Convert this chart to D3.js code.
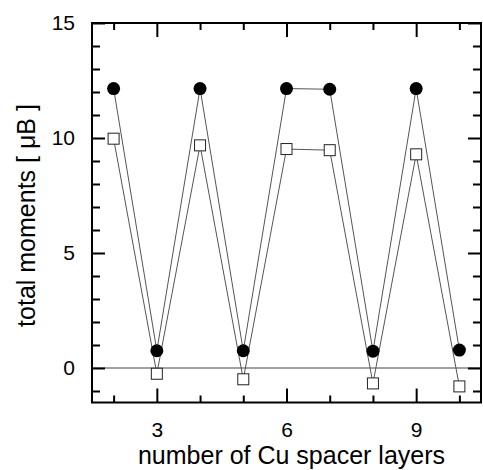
<!DOCTYPE html>
<html><head><meta charset="utf-8">
<script src="https://cdn.jsdelivr.net/npm/d3@7"></script>
<style>body{margin:0;background:#fff}svg{display:block}text{font-family:"Liberation Sans",Arial,sans-serif}</style>
</head><body><svg id="c" width="483" height="470"></svg>
<script>
const layers = [2,3,4,5,6,7,8,9,10];
const filledMoments = [12.15,0.75,12.15,0.75,12.15,12.12,0.73,12.15,0.78];
const openMoments = [9.97,-0.25,9.68,-0.49,9.52,9.47,-0.67,9.29,-0.8];
const xMajorTicks = [3,6,9];
const xMinorTicks = [2,4,5,7,8,10];
const yMajorTicks = [0,5,10,15];
const yMinorTicks = [-1,1,2,3,4,6,7,8,9,11,12,13,14];
const xLabel = "number of Cu spacer layers";
const yLabel = "total moments [ \u03BCB ]";

const svg = d3.select("#c");
const L=92, R=481, T=23, B=402.5;
const x = d3.scaleLinear().domain([1.5,10.5]).range([L,R]);
const y = d3.scaleLinear().domain([-1.5,15]).range([B,T]);

// zero line
svg.append("line").attr("x1",L).attr("x2",R).attr("y1",y(0)).attr("y2",y(0))
  .attr("stroke","#444").attr("stroke-width",1);

// axes with inward ticks
function ax(gen, tr, vals, len, labels){
  const g = svg.append("g").attr("transform",tr)
    .call(gen.tickValues(vals).tickSizeInner(-len).tickSizeOuter(0).tickPadding(len+8).tickFormat(labels?d3.format("d"):""));
  g.select(".domain").remove();
  g.selectAll(".tick line").attr("stroke","#000").attr("stroke-width",2);
  g.selectAll(".tick text").attr("font-size",21).attr("fill","#000").attr("font-family","'Liberation Sans',Arial,sans-serif");
  return g;
}
ax(d3.axisBottom(x), `translate(0,${B})`, xMajorTicks, 14, true).selectAll(".tick text").attr("dy","0").attr("y",34);
ax(d3.axisBottom(x), `translate(0,${B})`, xMinorTicks, 7, false);
ax(d3.axisTop(x), `translate(0,${T})`, xMajorTicks, 14, false);
ax(d3.axisTop(x), `translate(0,${T})`, xMinorTicks, 7, false);
ax(d3.axisLeft(y), `translate(${L},0)`, yMajorTicks, 13, true).selectAll(".tick text").attr("x",-17);
ax(d3.axisLeft(y), `translate(${L},0)`, yMinorTicks, 8, false);
ax(d3.axisRight(y), `translate(${R},0)`, yMajorTicks, 13, false);
ax(d3.axisRight(y), `translate(${R},0)`, yMinorTicks, 8, false);

// frame
svg.append("rect").attr("x",L).attr("y",T).attr("width",R-L).attr("height",B-T)
  .attr("fill","none").attr("stroke","#000").attr("stroke-width",2);

const line = d3.line().x((d,i)=>x(layers[i])).y(d=>y(d));
svg.append("path").datum(filledMoments).attr("d",line).attr("fill","none").attr("stroke","#555").attr("stroke-width",1);
svg.append("path").datum(openMoments).attr("d",line).attr("fill","none").attr("stroke","#555").attr("stroke-width",1);

svg.selectAll("circle.f").data(filledMoments).join("circle").attr("class","f")
  .attr("cx",(d,i)=>x(layers[i])).attr("cy",d=>y(d)).attr("r",6.5).attr("fill","#000");
svg.selectAll("rect.o").data(openMoments).join("rect").attr("class","o")
  .attr("x",(d,i)=>x(layers[i])-5.5).attr("y",d=>y(d)-5.5).attr("width",11).attr("height",11)
  .attr("fill","#fff").attr("stroke","#222").attr("stroke-width",1);

svg.append("text").attr("x",291.5).attr("y",463.5).attr("text-anchor","middle")
  .attr("font-size",25).attr("fill","#000").text(xLabel);
svg.append("text").attr("transform",`translate(34.5,215.5) rotate(-90)`).attr("text-anchor","middle")
  .attr("font-size",25).attr("fill","#000").text(yLabel);
</script></body></html>
